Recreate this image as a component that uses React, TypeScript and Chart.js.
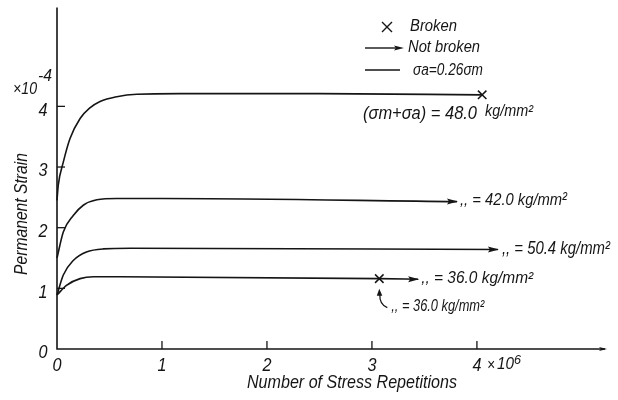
import { useEffect, useRef } from "react";
import { Chart, registerables } from "chart.js";

Chart.register(...registerables);

// Permanent strain (×10^-4) against number of stress repetitions (×10^6)
const xTickValues = [0, 1, 2, 3, 4];
const yTickValues = [0, 1, 2, 3, 4];

const reps480 = [0, 0.012, 0.06, 0.124, 0.22, 0.31, 0.41, 0.57, 0.76, 1.17, 2.5, 4.05];
const strain480 = [2.45, 2.7, 3.08, 3.47, 3.8, 3.97, 4.08, 4.16, 4.2, 4.21, 4.21, 4.19];

const reps420 = [0, 0.06, 0.155, 0.25, 0.38, 0.57, 1.0, 3.81];
const strain420 = [1.5, 1.93, 2.2, 2.37, 2.46, 2.48, 2.48, 2.43];

const reps504 = [0, 0.06, 0.155, 0.28, 0.44, 0.7, 4.2];
const strain504 = [0.89, 1.22, 1.46, 1.6, 1.65, 1.66, 1.64];

const reps360 = [0, 0.09, 0.22, 0.35, 0.6, 3.07, 3.44];
const strain360 = [0.89, 1.05, 1.16, 1.19, 1.19, 1.16, 1.15];

// specimens that failed
const brokenReps = [4.05, 3.07];
const brokenStrain = [4.19, 1.16];

const X_MAX = 5.22;
const Y_MAX = 5.63;

const INK = "#151515";
const FONT = "'Liberation Sans', Arial, sans-serif";

const toPoints = (xs: number[], ys: number[]) => xs.map((x, i) => ({ x, y: ys[i] }));

function arrowHead(ctx: CanvasRenderingContext2D, x: number, y: number, len = 11, half = 3) {
  ctx.beginPath();
  ctx.moveTo(x, y);
  ctx.lineTo(x - len, y - half);
  ctx.lineTo(x - len + 2, y);
  ctx.lineTo(x - len, y + half);
  ctx.closePath();
  ctx.fill();
}

// italic text squeezed horizontally to a given width, starting at x (or centred on x)
function fitText(
  ctx: CanvasRenderingContext2D,
  s: string,
  x: number,
  y: number,
  size: number,
  width: number,
  align: "left" | "center" = "left"
) {
  ctx.save();
  ctx.font = `italic ${size}px ${FONT}`;
  ctx.textAlign = "left";
  ctx.textBaseline = "middle";
  const w = ctx.measureText(s).width;
  const k = width / w;
  const left = align === "center" ? x - width / 2 : x;
  ctx.translate(left, y);
  ctx.scale(k, 1);
  ctx.fillText(s, 0, 0);
  ctx.restore();
}

const decorations = {
  id: "decorations",
  afterDatasetsDraw(chart: any) {
    const { ctx, scales } = chart;
    const xs = scales.x;
    const ys = scales.y;
    const x0 = xs.getPixelForValue(0);
    const y0 = ys.getPixelForValue(0);
    const xEnd = xs.getPixelForValue(X_MAX);
    const yTop = ys.getPixelForValue(Y_MAX);

    ctx.save();
    ctx.strokeStyle = INK;
    ctx.fillStyle = INK;
    ctx.lineWidth = 1.6;

    // axes
    ctx.beginPath();
    ctx.moveTo(x0, yTop);
    ctx.lineTo(x0, y0);
    ctx.lineTo(xEnd, y0);
    ctx.stroke();
    arrowHead(ctx, xEnd + 2, y0, 8, 2);

    // ticks point inward
    ctx.lineWidth = 1.3;
    yTickValues.forEach((v) => {
      const py = ys.getPixelForValue(v);
      if (v !== 0) {
        ctx.beginPath();
        ctx.moveTo(x0, py);
        ctx.lineTo(x0 + 8, py);
        ctx.stroke();
      }
      fitText(ctx, String(v), x0 - 14, py + 4, 19, 9, "center");
    });
    xTickValues.forEach((v) => {
      const px = xs.getPixelForValue(v);
      if (v !== 0) {
        ctx.beginPath();
        ctx.moveTo(px, y0);
        ctx.lineTo(px, y0 - 8);
        ctx.stroke();
      }
      fitText(ctx, String(v), px, y0 + 17, 18, 9, "center");
    });

    // scale factors
    fitText(ctx, "×10", 13, 90, 16, 24);
    fitText(ctx, "-4", 38, 77, 16, 14);
    const x4 = xs.getPixelForValue(4);
    fitText(ctx, "×", x4 + 10, y0 + 17, 16, 8);
    fitText(ctx, "10", x4 + 20, y0 + 16, 16, 17);
    fitText(ctx, "6", x4 + 37, y0 + 11, 13, 7);

    // axis titles
    fitText(ctx, "Number of Stress Repetitions", 247, 383, 18, 210);
    ctx.save();
    ctx.translate(22, 214);
    ctx.rotate(-Math.PI / 2);
    fitText(ctx, "Permanent Strain", 0, 0, 18, 122, "center");
    ctx.restore();

    // arrowheads on specimens that did not break
    [1, 2, 3].forEach((i) => {
      const meta = chart.getDatasetMeta(i);
      const last = meta.data[meta.data.length - 1];
      arrowHead(ctx, last.x + 1, last.y);
    });

    // curve labels
    const end = (i: number) => {
      const d = chart.getDatasetMeta(i).data;
      return d[d.length - 1];
    };
    const e480 = end(0);
    fitText(ctx, "(σm+σa) = 48.0", 363, e480.y + 19, 18, 114);
    fitText(ctx, "kg/mm²", 485, e480.y + 17, 16, 48);

    const e420 = end(1);
    fitText(ctx, ",, = 42.0 kg/mm²", e420.x + 3, e420.y - 1, 17, 107);
    const e504 = end(2);
    fitText(ctx, ",, = 50.4 kg/mm²", e504.x + 4, e504.y - 1, 18, 108);
    const e360 = end(3);
    fitText(ctx, ",, = 36.0 kg/mm²", e360.x + 3, e360.y - 1, 16, 112);

    // second 36.0 label pointing at the broken mark
    const bx = xs.getPixelForValue(brokenReps[1]);
    const by = ys.getPixelForValue(brokenStrain[1]);
    ctx.lineWidth = 1.3;
    ctx.beginPath();
    ctx.moveTo(bx + 8, by + 29);
    ctx.quadraticCurveTo(bx + 0, by + 26, bx + 0.5, by + 15);
    ctx.stroke();
    ctx.beginPath();
    ctx.moveTo(bx, by + 10);
    ctx.lineTo(bx - 2.5, by + 17);
    ctx.lineTo(bx + 3, by + 17);
    ctx.closePath();
    ctx.fill();
    fitText(ctx, ",, = 36.0 kg/mm²", bx + 12, by + 28, 16, 93);

    // legend
    ctx.lineWidth = 1.4;
    ctx.beginPath();
    ctx.moveTo(382, 22);
    ctx.lineTo(392, 32);
    ctx.moveTo(392, 22);
    ctx.lineTo(382, 32);
    ctx.stroke();
    fitText(ctx, "Broken", 410, 27, 16, 47);
    ctx.beginPath();
    ctx.moveTo(365, 48);
    ctx.lineTo(396, 48);
    ctx.stroke();
    arrowHead(ctx, 404, 48, 10, 2.5);
    fitText(ctx, "Not broken", 408, 48, 16, 72);
    ctx.beginPath();
    ctx.moveTo(365, 70);
    ctx.lineTo(400, 70);
    ctx.stroke();
    fitText(ctx, "σa=0.26σm", 413, 71, 16, 70);

    ctx.restore();
  },
};

export default function App() {
  const ref = useRef<HTMLCanvasElement | null>(null);

  useEffect(() => {
    if (!ref.current) return;
    const line = (xs: number[], ys: number[]) => ({
      data: toPoints(xs, ys),
      borderColor: INK,
      borderWidth: 1.6,
      pointRadius: 0,
      fill: false,
      cubicInterpolationMode: "monotone" as const,
      clip: false as any,
    });
    const chart = new Chart(ref.current, {
      type: "line",
      data: {
        datasets: [
          line(reps480, strain480),
          line(reps420, strain420),
          line(reps504, strain504),
          line(reps360, strain360),
          {
            data: toPoints(brokenReps, brokenStrain),
            showLine: false,
            pointStyle: "crossRot",
            pointRadius: 6,
            pointBorderWidth: 1.5,
            borderColor: INK,
            pointBorderColor: INK,
            clip: false as any,
          },
        ],
      },
      options: {
        responsive: false,
        animation: false,
        layout: { padding: { left: 57, right: 13, top: 7, bottom: 51 } },
        plugins: { legend: { display: false }, tooltip: { enabled: false } },
        scales: {
          x: { type: "linear", min: 0, max: X_MAX, display: false },
          y: { type: "linear", min: 0, max: Y_MAX, display: false },
        },
      },
      plugins: [decorations],
    });
    return () => chart.destroy();
  }, []);

  return (
    <div style={{ position: "fixed", left: 0, top: 0, width: 618, height: 400, background: "#fff" }}>
      <canvas ref={ref} width={618} height={400} />
    </div>
  );
}
